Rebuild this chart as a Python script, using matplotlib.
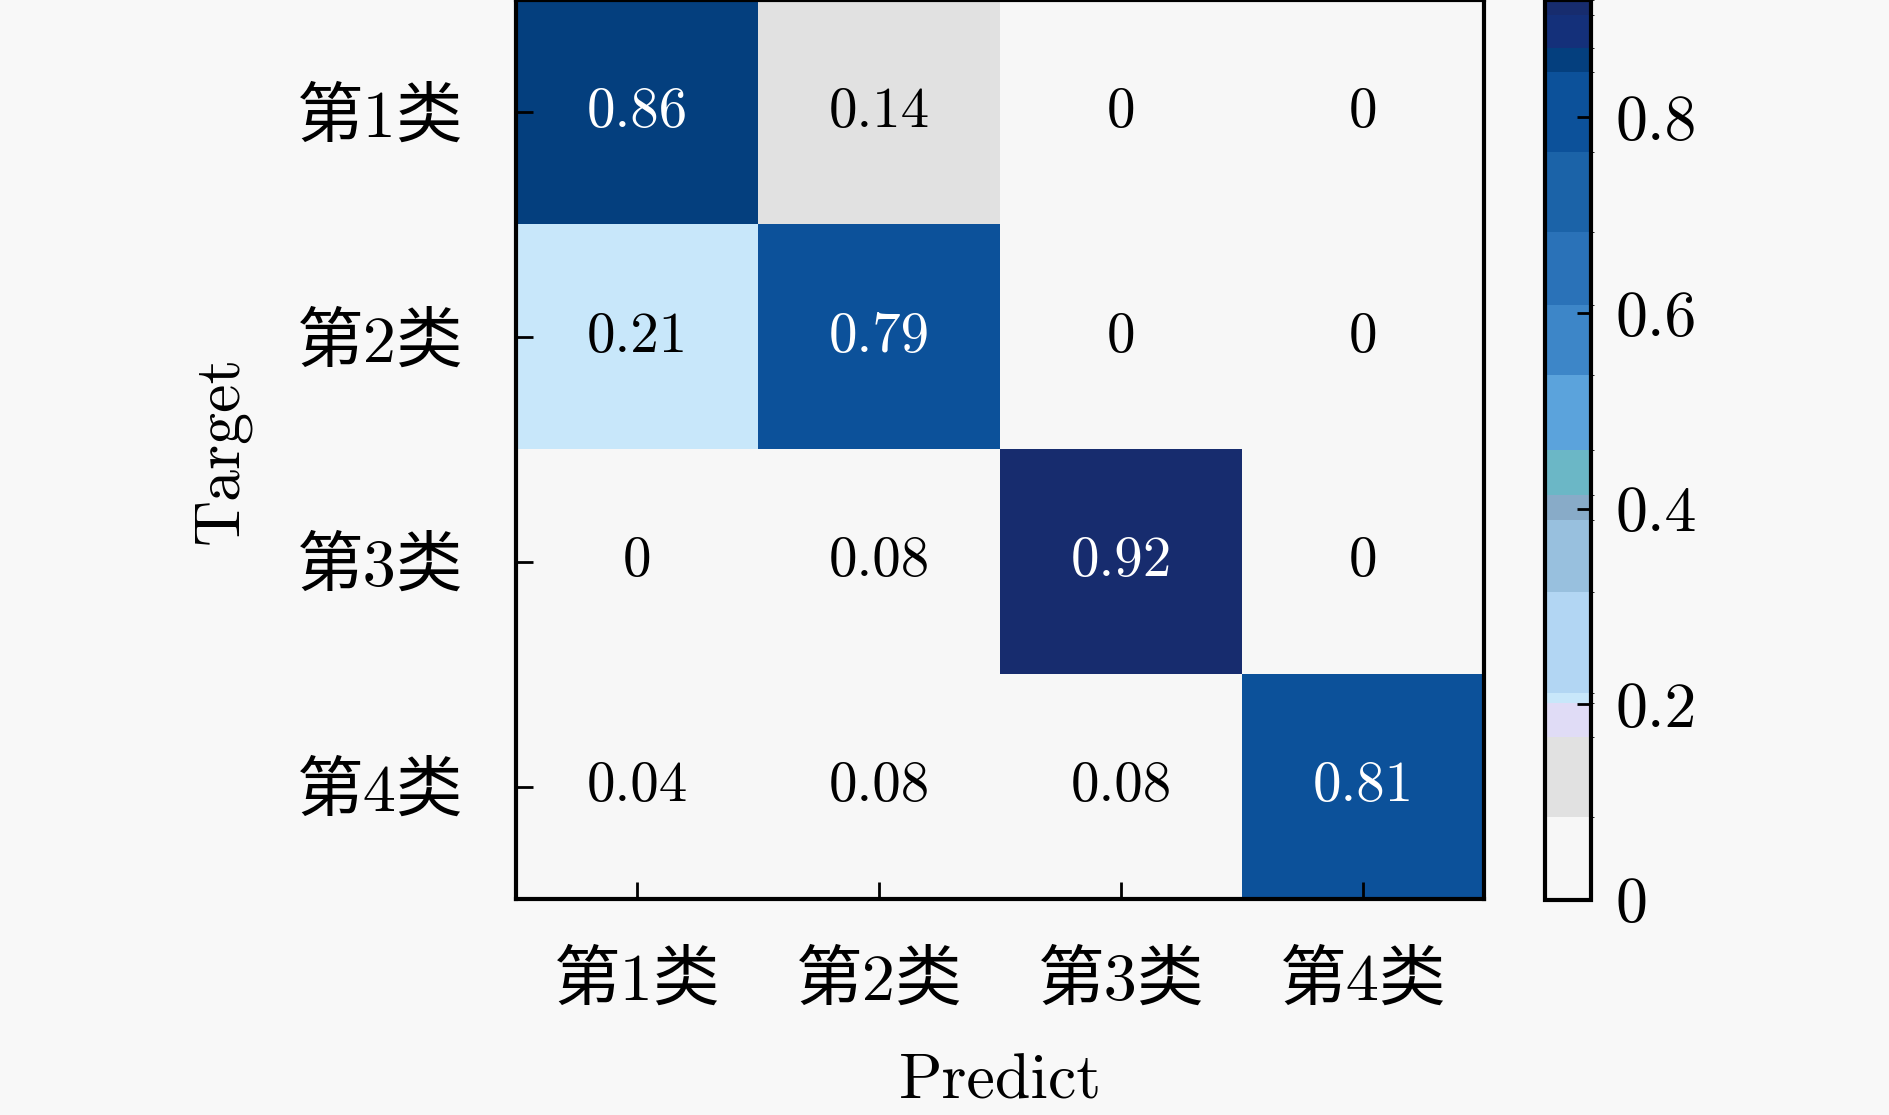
import numpy as np
import matplotlib
matplotlib.use('Agg')
import matplotlib.pyplot as plt
from matplotlib.colors import ListedColormap, BoundaryNorm

# class names and confusion matrix (rows = target, cols = predict)
classes = ['第1类', '第2类', '第3类', '第4类']
conf = np.array([[0.86, 0.14, 0.00, 0.00],
                 [0.21, 0.79, 0.00, 0.00],
                 [0.00, 0.08, 0.92, 0.00],
                 [0.04, 0.08, 0.08, 0.81]])
cbar_ticks = [0, 0.2, 0.4, 0.6, 0.8]
cbar_labels = ['0', '0.2', '0.4', '0.6', '0.8']

# stepped colour scale
bounds = [0, 0.085, 0.167, 0.201, 0.212, 0.315, 0.388, 0.414, 0.46,
          0.537, 0.608, 0.683, 0.765, 0.846, 0.871, 0.905, 0.92]
colors = ['#f7f7f7', '#e1e1e1', '#e0dcf6', '#c8e7fa', '#b2d6f3', '#98c0de',
          '#88abc8', '#6bb7c6', '#5ba3dc', '#3d86c8', '#2a72b8', '#1b63a8',
          '#0c519a', '#043f7e', '#14307a', '#172c6e']
cmap = ListedColormap(colors)
norm = BoundaryNorm(bounds, cmap.N)

bg = '#f8f8f8'
fams = ['cmr10', 'Noto Sans CJK SC', 'DejaVu Serif']
plt.rcParams['font.family'] = fams
plt.rcParams['axes.formatter.use_mathtext'] = True

fig = plt.figure(figsize=(18.9, 11.15), dpi=100, facecolor=bg)
ax = fig.add_axes([516/1890, 216/1115, 968/1890, 899/1115])
cax = fig.add_axes([1545/1890, 215/1115, 46/1890, 900/1115])

im = ax.imshow(conf, cmap=cmap, norm=norm, aspect='auto', interpolation='nearest')

for i in range(conf.shape[0]):
    for j in range(conf.shape[1]):
        v = conf[i, j]
        txt = '0' if v == 0 else '%.2f' % v
        c = 'white' if v > 0.5 else 'black'
        ax.text(j, i, txt, ha='center', va='center', color=c, fontsize=41, family=fams)

ax.set_xticks(range(len(classes)))
ax.set_yticks(range(len(classes)))
ax.set_xticklabels(classes, fontsize=48)
ax.set_yticklabels(classes, fontsize=48)
ax.tick_params(direction='in', length=12, width=2, pad=38)
ax.set_xlabel('Predict', fontsize=46, labelpad=29)
ax.set_ylabel('Target', fontsize=46, labelpad=33)
for s in ax.spines.values():
    s.set_linewidth(3)

cb = fig.colorbar(im, cax=cax, spacing='proportional', ticks=cbar_ticks)
cb.ax.set_yticklabels(cbar_labels, fontsize=46)
cb.ax.tick_params(direction='in', length=10, width=2, pad=18)
cb.outline.set_linewidth(3)

fig.savefig('out.png', dpi=100, facecolor=bg)
